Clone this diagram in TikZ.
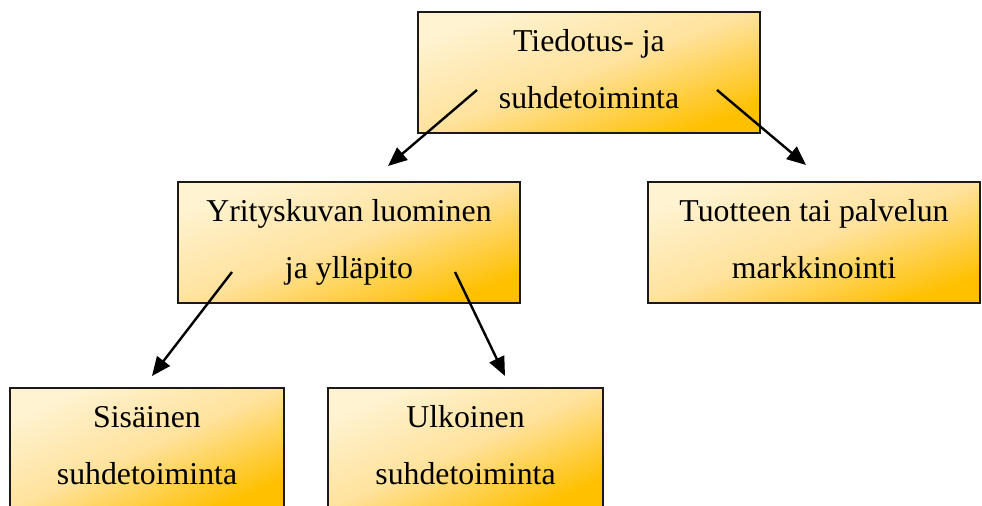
\documentclass[tikz,border=0pt]{standalone}
\usepackage{fontspec}
\setmainfont{Liberation Serif}
\usetikzlibrary{arrows.meta}

\definecolor{boxlight}{HTML}{FFF3D2}
\definecolor{boxmid}{HTML}{FFE29C}
\definecolor{boxdark}{HTML}{FFC000}
\definecolor{boxline}{HTML}{1A1A1A}

% light corner at the top, orange at the bottom; corners fall at 25bp and 75bp
\pgfdeclareverticalshading{boxfade}{100bp}{
  color(0bp)=(boxdark); color(25bp)=(boxdark);
  color(50bp)=(boxmid);
  color(75bp)=(boxlight); color(100bp)=(boxlight)}

\tikzset{
  orgbox/.style={
    draw=boxline, line width=1pt, rectangle,
    shading=boxfade, shading angle=20,
    minimum height=60.5pt, inner sep=0pt, align=center,
    font=\fontsize{15.9pt}{28.5pt}\selectfont
  },
  narrowbox/.style={orgbox, shading angle=24},
  link/.style={line width=1.2pt, -{Triangle[length=9.5pt,width=8pt]}}
}

% strut so every two-line label sits on the same baselines
\newcommand{\lnA}{\vphantom{Tdj}}

\begin{document}
\begin{tikzpicture}[x=0.5pt, y=-0.5pt]
  \useasboundingbox (0,0) rectangle (982,506);
  \clip (0,0) rectangle (982,506);

  % boxes
  \node[orgbox, minimum width=171pt] (top)   at (589,72.5)  {\lnA Tiedotus- ja\\\lnA suhdetoiminta};
  \node[orgbox, minimum width=171pt] (image) at (349,242.5) {\lnA Yrityskuvan luominen\\\lnA ja ylläpito};
  \node[orgbox, minimum width=166pt] (mark)  at (814,242.5) {\lnA Tuotteen tai palvelun\\\lnA markkinointi};
  \node[narrowbox, minimum width=137pt] (inner) at (147,448.5) {\lnA Sisäinen\\\lnA suhdetoiminta};
  \node[narrowbox, minimum width=137.5pt] (outer) at (465.5,448.5) {\lnA Ulkoinen\\\lnA suhdetoiminta};

  % arrow ends
  \coordinate (t1s) at (477,90);   \coordinate (t1e) at (388,166);
  \coordinate (t2s) at (717,90);   \coordinate (t2e) at (806,165);
  \coordinate (i1s) at (232,272);  \coordinate (i1e) at (152,376);
  \coordinate (i2s) at (455,272);  \coordinate (i2e) at (505,376);

  % connectors
  \draw[link] (t1s) -- (t1e);
  \draw[link] (t2s) -- (t2e);
  \draw[link] (i1s) -- (i1e);
  \draw[link] (i2s) -- (i2e);
\end{tikzpicture}
\end{document}
